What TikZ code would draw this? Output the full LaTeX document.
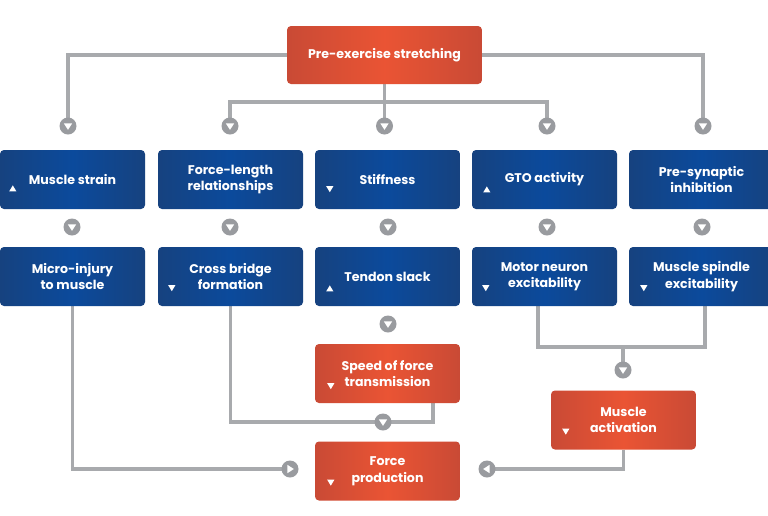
\documentclass[tikz,border=0pt]{standalone}
\usepackage{fontspec}
\setmainfont{Poppins}
\usetikzlibrary{calc,backgrounds}
\definecolor{bluemid}{HTML}{0B4A9C}
\definecolor{blueedge}{HTML}{16427F}
\definecolor{orgmid}{HTML}{EA5434}
\definecolor{orgedge}{HTML}{C94A35}
\definecolor{lgray}{HTML}{A8AAAD}
\definecolor{mgray}{HTML}{999B9F}
\tikzset{
  x=1pt, y=-1pt,
  base/.style={rounded corners=4pt, minimum width=145pt, minimum height=59pt, inner sep=0pt,
    align=center, text=white, font=\bfseries\fontsize{12.6}{16.5}\selectfont},
  bluebox/.style={base, left color=blueedge, right color=blueedge, middle color=bluemid},
  orgbox/.style={base, left color=orgedge, right color=orgedge, middle color=orgmid},
  markbase/.style={circle, fill=mgray, minimum size=17pt, inner sep=0pt},
  mdown/.style={markbase, path picture={\fill[white] ($(path picture bounding box.center)+(-4.2,-2.6)$)
      -- ++(8.4,0) -- ++(-4.2,6.4) -- cycle;}},
  mright/.style={markbase, path picture={\fill[white] ($(path picture bounding box.center)+(-2.6,-4.2)$)
      -- ++(0,8.4) -- ++(6.4,-4.2) -- cycle;}},
  mleft/.style={markbase, path picture={\fill[white] ($(path picture bounding box.center)+(2.6,-4.2)$)
      -- ++(0,8.4) -- ++(-6.4,-4.2) -- cycle;}},
  conn/.style={draw=lgray, line width=3.2pt},
  tdown/.pic={\fill[white] (-3.6,-2.6) -- (3.6,-2.6) -- (0,3.4) -- cycle;},
  tup/.pic={\fill[white] (-3.6,2.6) -- (3.6,2.6) -- (0,-3.4) -- cycle;},
}
\begin{document}
\begin{tikzpicture}
\useasboundingbox (0,0) rectangle (768,515);
% boxes
\node[orgbox, minimum width=195pt, minimum height=58pt] (pre) at (384.5,55) {Pre-exercise stretching};
\node[bluebox] (strain) at (72.5,179.5) {Muscle strain};
\node[bluebox] (fl) at (230.5,179.5) {Force-length\\relationships};
\node[bluebox] (stiff) at (387.5,179.5) {Stiffness};
\node[bluebox] (gto) at (544.5,179.5) {GTO activity};
\node[bluebox] (psi) at (701.5,179.5) {Pre-synaptic\\inhibition};
\node[bluebox] (micro) at (72.5,276.5) {Micro-injury\\to muscle};
\node[bluebox] (cross) at (230.5,276.5) {Cross bridge\\formation};
\node[bluebox] (tendon) at (387.5,276.5) {Tendon slack};
\node[bluebox] (motor) at (544.5,276.5) {Motor neuron\\excitability};
\node[bluebox] (spindle) at (701.5,276.5) {Muscle spindle\\excitability};
\node[orgbox] (speed) at (387.5,373.5) {Speed of force\\transmission};
\node[orgbox] (force) at (387.5,471) {Force\\production};
\node[orgbox] (act) at (623.5,420) {Muscle\\activation};
% small triangles
\pic at ($(strain.north west)+(13,39)$) {tup};
\pic at ($(stiff.north west)+(15,39)$) {tdown};
\pic at ($(gto.north west)+(15,40)$) {tup};
\pic at ($(cross.north west)+(14,41)$) {tdown};
\pic at ($(tendon.north west)+(15,42)$) {tup};
\pic at ($(motor.north west)+(14,41)$) {tdown};
\pic at ($(spindle.north west)+(15,41)$) {tdown};
\pic at ($(speed.north west)+(16,42)$) {tdown};
\pic at ($(force.north west)+(16,41)$) {tdown};
\pic at ($(act.north west)+(15,41)$) {tdown};
% markers
\node[mdown] (c1) at (68,126) {};
\node[mdown] (c2) at (230,126) {};
\node[mdown] (c3) at (384.5,126) {};
\node[mdown] (c4) at (547,126) {};
\node[mdown] (c5) at (703,126) {};
\node[mdown] (d1) at (72,227) {};
\node[mdown] (d2) at (230,227) {};
\node[mdown] (d3) at (388,227) {};
\node[mdown] (d4) at (547,227) {};
\node[mdown] (d5) at (702,227) {};
\node[mdown] (d6) at (388,324) {};
\node[mright] (m1) at (290,469) {};
\node[mdown] (m2) at (383,422) {};
\node[mdown] (m3) at (623,370) {};
\node[mleft] (m4) at (487,469) {};
% junctions
\coordinate (j1) at (384.5,102);
\coordinate (sp) at (433,403);
\coordinate (j3) at (705,347);
\coordinate (j4) at (623,347);
\coordinate (ms) at (538,306);
\coordinate (ss) at (705,306);
% connectors
\begin{scope}[on background layer]
\fill[white] (0,0) rectangle (768,515);
\path[conn] (pre.west) -| (c1.center);
\path[conn] (pre.east) -| (c5.center);
\path[conn] (pre.south) -- (j1) -- (c3.center);
\path[conn] (j1) -| (c2.center);
\path[conn] (j1) -| (c4.center);
\path[conn] (micro.south) |- (m1.center);
\path[conn] (cross.south) |- (m2.center);
\path[conn] (sp) |- (m2.center);
\path[conn] (ms) |- (j3) -- (ss);
\path[conn] (j4) -- (m3.center);
\path[conn] (act.south) |- (m4.center);
\end{scope}
\end{tikzpicture}
\end{document}
